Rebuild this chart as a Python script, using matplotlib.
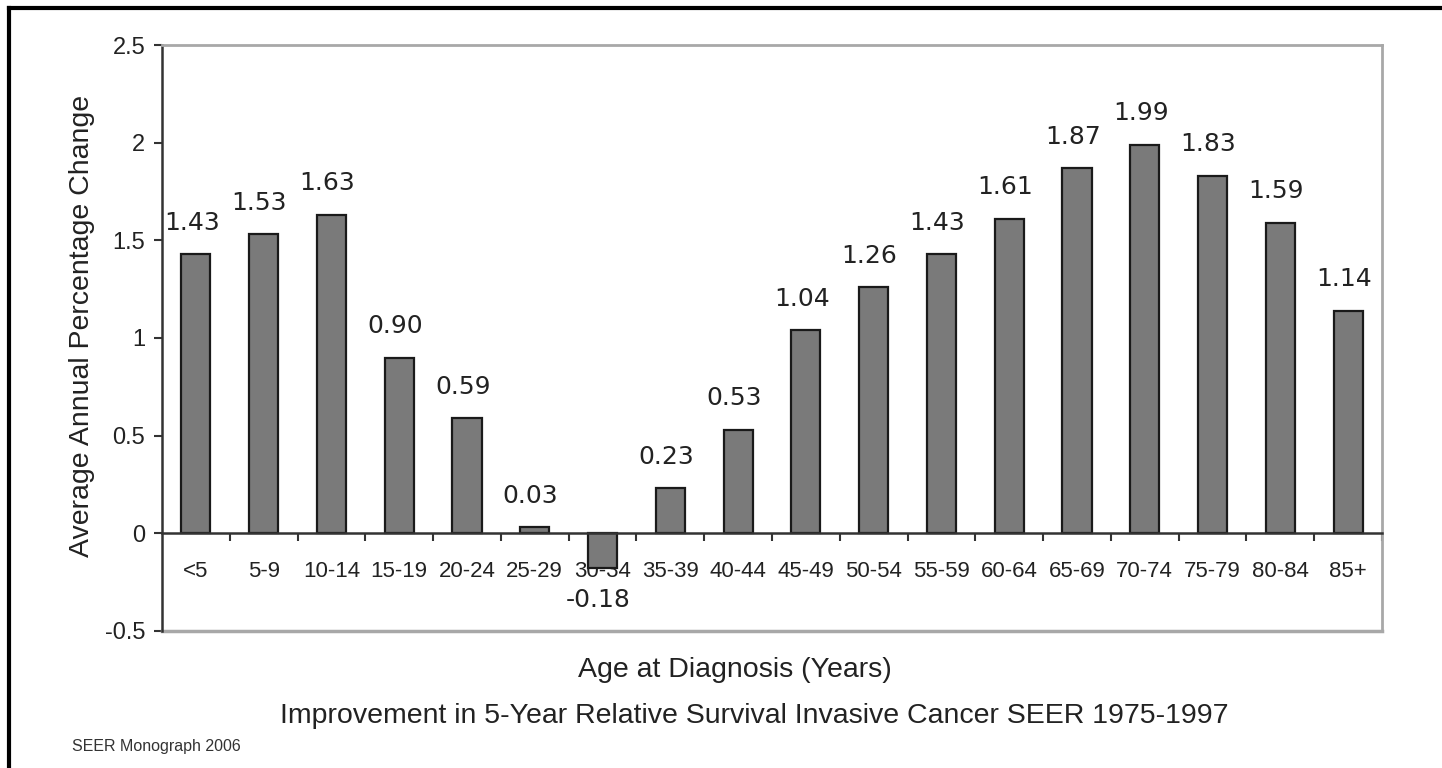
import matplotlib.pyplot as plt
from matplotlib.lines import Line2D

# -----------------------------
# Data
# -----------------------------
age_groups = ["<5", "5-9", "10-14", "15-19", "20-24", "25-29", "30-34", "35-39",
              "40-44", "45-49", "50-54", "55-59", "60-64", "65-69", "70-74",
              "75-79", "80-84", "85+"]
pct_change = [1.43, 1.53, 1.63, 0.90, 0.59, 0.03, -0.18, 0.23, 0.53, 1.04,
              1.26, 1.43, 1.61, 1.87, 1.99, 1.83, 1.59, 1.14]
y_ticks = [-0.5, 0, 0.5, 1, 1.5, 2, 2.5]
y_tick_labels = ["-0.5", "0", "0.5", "1", "1.5", "2", "2.5"]

plt.rcParams['font.family'] = ['Liberation Sans', 'DejaVu Sans']

fig = plt.figure(figsize=(14.42, 7.68), dpi=100)
ax = fig.add_axes([0.1123, 0.1784, 0.8461, 0.763])

x = list(range(len(age_groups)))
bars = ax.bar(x, pct_change, width=0.43, color="#7a7a7a", edgecolor="#1a1a1a",
              linewidth=1.6, zorder=3)

# value labels
for xi, v in zip(x, pct_change):
    off = 14 if v >= 0 else -14
    ax.annotate(f"{v:.2f}", (xi, v), xytext=(-3, off), textcoords="offset points",
                ha="center", va="bottom" if v >= 0 else "top",
                fontsize=18, family="DejaVu Sans", color="#222222")

ax.set_xlim(-0.5, len(age_groups) - 0.5)
ax.set_ylim(-0.5, 2.5)

# spines
for s in ["top", "right"]:
    ax.spines[s].set_color("#a8a8a8")
    ax.spines[s].set_linewidth(2)
ax.spines["left"].set_color("#333333")
ax.spines["left"].set_linewidth(1.8)
ax.spines["bottom"].set_position(("data", 0))
ax.spines["bottom"].set_color("#333333")
ax.spines["bottom"].set_linewidth(1.8)
ax.spines["bottom"].set_zorder(4)
ax.axhline(-0.5, color="#a8a8a8", lw=2.5, clip_on=False)

# y axis
ax.set_yticks(y_ticks)
ax.set_yticklabels(y_tick_labels)
ax.tick_params(axis="y", direction="out", length=6, width=1.5, color="#333333",
               labelsize=17, labelcolor="#222222", pad=6)

# x axis: labels at centers, tick marks between groups
ax.set_xticks(x)
ax.set_xticklabels(age_groups)
ax.set_xticks([i + 0.5 for i in x], minor=True)
ax.tick_params(axis="x", which="major", length=0, labelsize=16,
               labelcolor="#222222", pad=20)
ax.tick_params(axis="x", which="minor", direction="out", length=6, width=1.5,
               color="#333333")

ax.set_ylabel("Average Annual Percentage Change", fontsize=20.5, color="#222222")
ax.yaxis.set_label_coords(-0.055, 0.52)
ax.set_xlabel("Age at Diagnosis (Years)", fontsize=20.5, color="#222222")
ax.xaxis.set_label_coords(0.47, -0.045)

fig.text(0.523, 0.068, "Improvement in 5-Year Relative Survival Invasive Cancer SEER 1975-1997",
         ha="center", va="center", fontsize=20.5, color="#222222")
fig.text(0.05, 0.028, "SEER Monograph 2006", ha="left", va="center",
         fontsize=11.5, color="#333333")

# image frame (top and left)
fig.add_artist(Line2D([0.006, 1.0], [0.989, 0.989], color="black", lw=3,
                      transform=fig.transFigure))
fig.add_artist(Line2D([0.006, 0.006], [0.0, 0.989], color="black", lw=3,
                      transform=fig.transFigure))

fig.savefig("out.png", dpi=100)
